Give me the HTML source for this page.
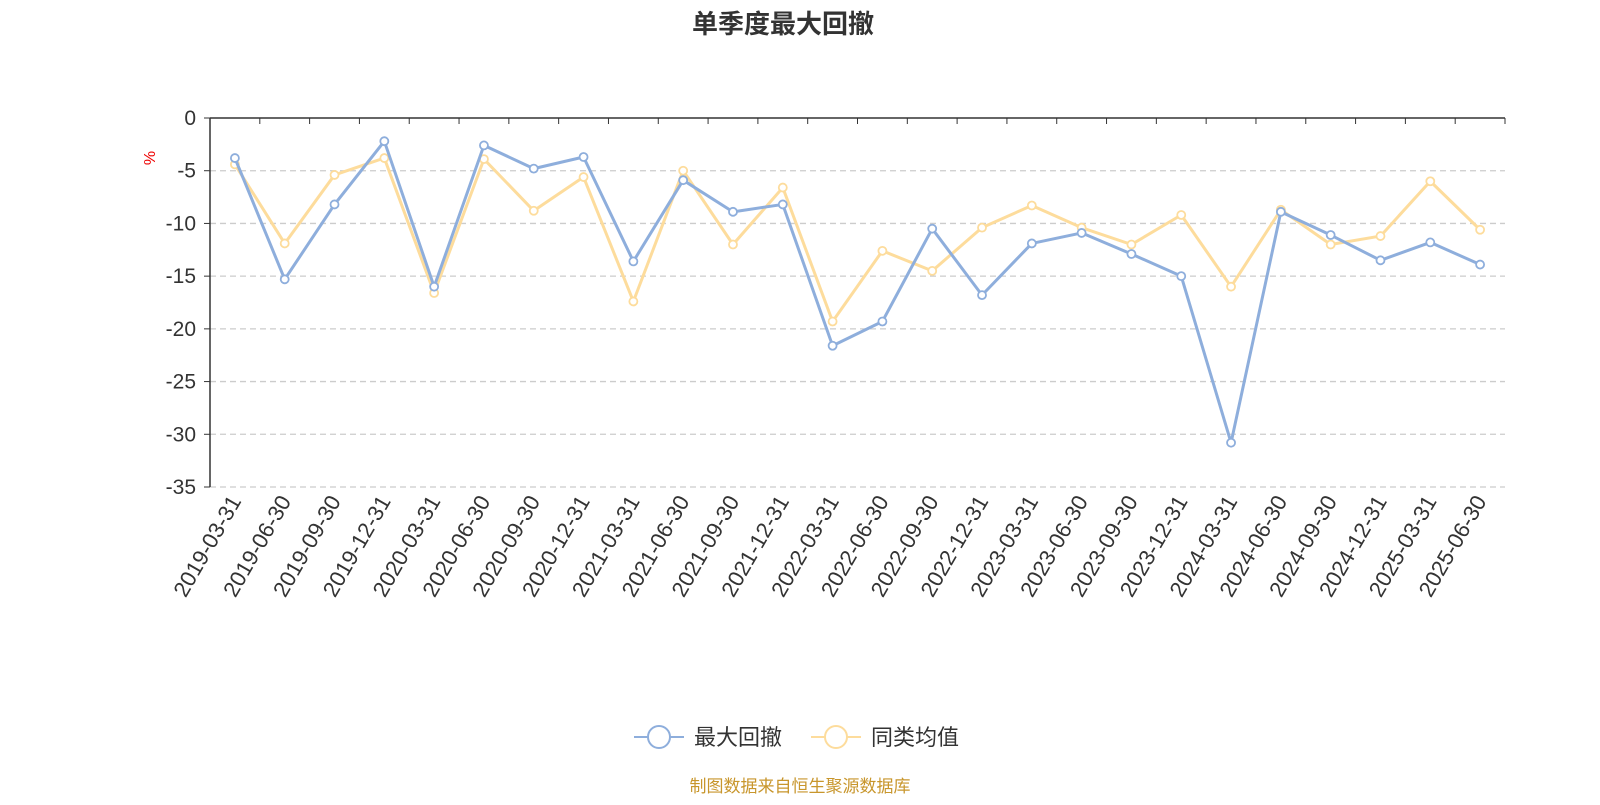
<!DOCTYPE html>
<html><head><meta charset="utf-8"><style>
body{margin:0;background:#fff;width:1600px;height:800px;overflow:hidden;font-family:"Liberation Sans","Noto Sans CJK SC",sans-serif;}
</style></head><body>
<svg id="c" width="1600" height="800" xmlns="http://www.w3.org/2000/svg" font-family="Liberation Sans, Noto Sans CJK SC, sans-serif">
<text x="783" y="33" text-anchor="middle" font-size="26" font-weight="bold" fill="#333">单季度最大回撤</text>
<text transform="translate(155,158) rotate(-90)" text-anchor="middle" font-size="16" fill="#e00">%</text>
<g id="grid"></g><g id="axes"></g><g id="series"></g>
<g>
<g>
<line x1="634" y1="737" x2="684" y2="737" stroke="#8eaedc" stroke-width="2"/>
<circle cx="659" cy="737" r="11" fill="#fff" stroke="#8eaedc" stroke-width="2"/>
<text x="694" y="745" font-size="22" fill="#333">最大回撤</text></g>
<g>
<line x1="811" y1="737" x2="861" y2="737" stroke="#fddc9c" stroke-width="2"/>
<circle cx="836" cy="737" r="11" fill="#fff" stroke="#fddc9c" stroke-width="2"/>
<text x="871" y="745" font-size="22" fill="#333">同类均值</text></g>
</g>
<text x="800" y="792" text-anchor="middle" font-size="17" fill="#c8962c">制图数据来自恒生聚源数据库</text>
</svg>
<script>
const categories=["2019-03-31","2019-06-30","2019-09-30","2019-12-31","2020-03-31","2020-06-30","2020-09-30","2020-12-31","2021-03-31","2021-06-30","2021-09-30","2021-12-31","2022-03-31","2022-06-30","2022-09-30","2022-12-31","2023-03-31","2023-06-30","2023-09-30","2023-12-31","2024-03-31","2024-06-30","2024-09-30","2024-12-31","2025-03-31","2025-06-30"];
const maxDrawdown=[-3.8,-15.3,-8.2,-2.2,-16.0,-2.6,-4.8,-3.7,-13.6,-5.9,-8.9,-8.2,-21.6,-19.3,-10.5,-16.8,-11.9,-10.9,-12.9,-15.0,-30.8,-8.9,-11.1,-13.5,-11.8,-13.9];
const peerAverage=[-4.4,-11.9,-5.4,-3.8,-16.6,-3.9,-8.8,-5.6,-17.4,-5.0,-12.0,-6.6,-19.3,-12.6,-14.5,-10.4,-8.3,-10.4,-12.0,-9.2,-16.0,-8.7,-12.0,-11.2,-6.0,-10.6];
const yTicks=[0,-5,-10,-15,-20,-25,-30,-35];
const NS="http://www.w3.org/2000/svg";
const X0=210,X1=1505,Y0=118,Y1=487,YMIN=-35,YMAX=0;
const bw=(X1-X0)/categories.length;
const xs=i=>X0+bw*(i+0.5);
const ys=v=>Y0+(YMAX-v)/(YMAX-YMIN)*(Y1-Y0);
function mk(tag,attrs,parent){const e=document.createElementNS(NS,tag);for(const k in attrs)e.setAttribute(k,attrs[k]);parent.appendChild(e);return e;}
const grid=document.getElementById('grid'),axes=document.getElementById('axes'),ser=document.getElementById('series');
yTicks.forEach(t=>{const y=ys(t);
 if(t!==0){const l=mk('line',{x1:X0,x2:X1,y1:y,y2:y,stroke:'#ccc','stroke-dasharray':'6,4','stroke-width':1.3},grid);
 
 }
 const tl=mk('line',{x1:X0-6,x2:X0,y1:y,y2:y,stroke:'#333'},axes);
 
 
 const tx=mk('text',{x:X0-14,y:y+7,'text-anchor':'end','font-size':21,fill:'#333'},axes);tx.textContent=t;
 
 });
const ya=mk('line',{x1:X0,x2:X0,y1:Y0,y2:Y1,stroke:'#333','stroke-width':1.5},axes);


const xa=mk('line',{x1:X0,x2:X1,y1:ys(0),y2:ys(0),stroke:'#333','stroke-width':1.5},axes);


for(let i=0;i<=categories.length;i++){const x=X0+bw*i;
 const t=mk('line',{x1:x,x2:x,y1:ys(0),y2:ys(0)+6,stroke:'#333'},axes);
 
 }
categories.forEach((c,i)=>{const x=xs(i)+7,y=Y1+14;
 const t=mk('text',{x:x,y:y,'text-anchor':'end','font-size':22,fill:'#333',transform:`rotate(-60 ${x} ${y})`},axes);t.textContent=c;
 
 });
function draw(data,color,name){
 const p=mk('polyline',{points:data.map((v,i)=>xs(i)+','+ys(v)).join(' '),fill:'none',stroke:color,'stroke-width':3,'stroke-linejoin':'round'},ser);
 
 
 data.forEach((v,i)=>{const c=mk('circle',{cx:xs(i),cy:ys(v),r:4,fill:'#fff',stroke:color,'stroke-width':1.8},ser);
 
 });}
draw(peerAverage,'#fddc9c','peer-average');
draw(maxDrawdown,'#8eaedc','max-drawdown');
</script>
</body></html>
